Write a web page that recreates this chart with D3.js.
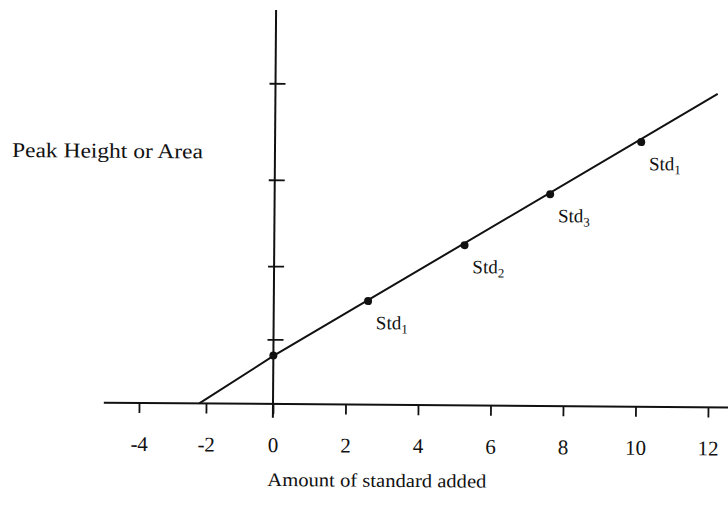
<!DOCTYPE html>
<html>
<head>
<meta charset="utf-8">
<script src="https://cdn.jsdelivr.net/npm/d3@7"></script>
<style>
  html, body { margin: 0; padding: 0; background: #fff; }
  svg { display: block; }
  text { font-family: "Liberation Serif", "Times New Roman", serif; fill: #111; }
</style>
</head>
<body>
<svg id="chart" width="728" height="520"></svg>
<script>
// Standard-addition calibration: amount of standard added vs. peak response
const xTicks = [-4, -2, 0, 2, 4, 6, 8, 10, 12];
const xTickLabels = ["-4", "-2", "0", "2", "4", "6", "8", "10", "12"];
const yTicks = [16.4, 35.0, 56.9, 81.4];          // unlabelled marks on the response axis

const stdAdded = [0, 2.6, 5.25, 7.6, 10.1];         // amount of standard added
const response = [12.3, 26.3, 40.7, 53.8, 67.2];    // peak height or area
const stdSubscripts = [null, "1", "2", "3", "1"];   // Std labels (sample alone has none)

// Extrapolated calibration line, back to the x-intercept
const fitX = [-2.2, 0, 12.2];
const fitY = [0, 12.2, 79.6];

// Extent of the drawn axis lines
const xAxisExtent = [-5.05, 12.6];
const yAxisExtent = [-3.5, 100];

const svg = d3.select("#chart");
const x = d3.scaleLinear().domain([-4, 0, 12]).range([139, 273, 708]);
const y = d3.scaleLinear().domain([0, 100]).range([404, 10]);

// The whole figure sits slightly askew on the page
const g = svg.append("g").attr("transform", `rotate(0.45, ${x(0)}, ${y(0)})`);

// Horizontal axis line (extends left past the last tick)
g.append("line")
  .attr("x1", x(xAxisExtent[0])).attr("x2", x(xAxisExtent[1]))
  .attr("y1", y(0)).attr("y2", y(0))
  .attr("stroke", "#111").attr("stroke-width", 2);

// Vertical axis line at zero addition
g.append("line")
  .attr("x1", x(0)).attr("x2", x(0))
  .attr("y1", y(yAxisExtent[0])).attr("y2", y(yAxisExtent[1]))
  .attr("stroke", "#111").attr("stroke-width", 2);

// Bottom axis ticks and labels
const xAxis = d3.axisBottom(x)
  .tickValues(xTicks)
  .tickFormat((d, i) => xTickLabels[i])
  .tickSize(10)
  .tickSizeOuter(0);
const xg = g.append("g").attr("transform", `translate(0, ${y(0)})`).call(xAxis);
xg.select(".domain").remove();
xg.selectAll(".tick line").attr("stroke", "#111").attr("stroke-width", 1.8);
xg.selectAll(".tick text")
  .attr("y", 48).attr("dy", null)
  .attr("font-size", 21)
  .style("font-family", "'Liberation Serif', 'Times New Roman', serif")
  .attr("fill", "#111");

// Response-axis tick marks (no labels), crossing the axis
const yAxis = d3.axisLeft(y).tickValues(yTicks).tickFormat("").tickSizeOuter(0);
const yg = g.append("g").attr("transform", `translate(${x(0)}, 0)`).call(yAxis);
yg.select(".domain").remove();
yg.selectAll(".tick line")
  .attr("x1", -6).attr("x2", 10)
  .attr("stroke", "#111").attr("stroke-width", 1.8);

// Calibration line
const line = d3.line().x(d => x(d[0])).y(d => y(d[1]));
g.append("path")
  .datum(fitX.map((v, i) => [v, fitY[i]]))
  .attr("d", line)
  .attr("fill", "none")
  .attr("stroke", "#111")
  .attr("stroke-width", 2);

// Measured points
const pts = stdAdded.map((v, i) => ({ x: v, y: response[i], sub: stdSubscripts[i] }));
g.selectAll("circle.pt")
  .data(pts)
  .join("circle")
  .attr("class", "pt")
  .attr("cx", d => x(d.x))
  .attr("cy", d => y(d.y))
  .attr("r", 4)
  .attr("fill", "#111");

// Std labels beneath each spiked point
const lab = g.selectAll("text.std")
  .data(pts.filter(d => d.sub))
  .join("text")
  .attr("class", "std")
  .attr("x", d => x(d.x) + 8)
  .attr("y", d => y(d.y) + 28)
  .attr("font-size", 19);
lab.append("tspan").text("Std");
lab.append("tspan")
  .attr("dy", 4)
  .attr("font-size", 13)
  .text(d => d.sub);

// Axis titles
g.append("text")
  .attr("x", 10).attr("y", 159)
  .attr("font-size", 21)
  .attr("textLength", 191)
  .attr("lengthAdjust", "spacingAndGlyphs")
  .text("Peak Height or Area");

g.append("text")
  .attr("x", 268).attr("y", 486)
  .attr("font-size", 19)
  .attr("textLength", 219)
  .attr("lengthAdjust", "spacingAndGlyphs")
  .text("Amount of standard added");
</script>
</body>
</html>
